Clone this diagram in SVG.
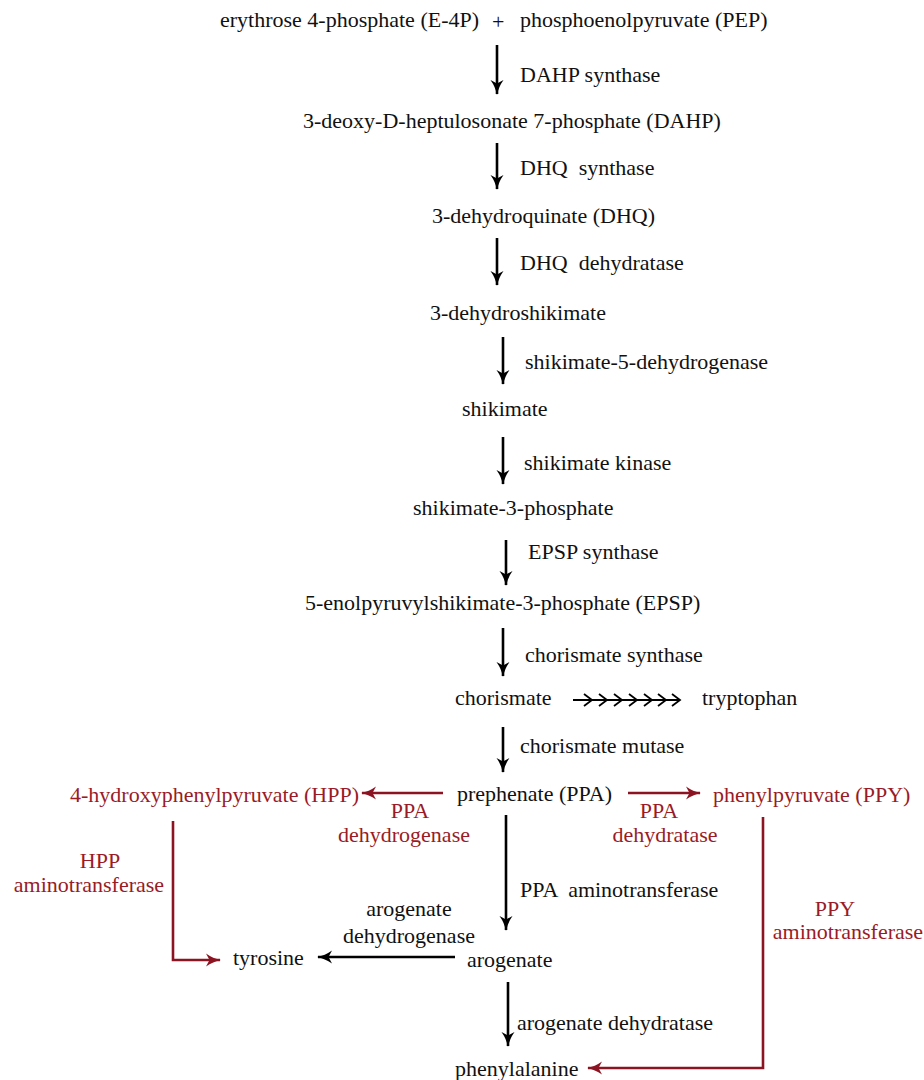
<svg xmlns="http://www.w3.org/2000/svg" width="924" height="1080" viewBox="0 0 924 1080" font-family="'Liberation Serif', 'DejaVu Serif', serif">
<defs>
<style>
text{font-family:'Liberation Serif','DejaVu Serif',serif;font-size:22px;fill:#111}
.r{fill:#9a1b26}
.m{text-anchor:middle}
.k{stroke:#000;stroke-width:2.6;fill:none}
.rl{stroke:#8c1422;stroke-width:2.6;fill:none}
.ch{stroke:#000;stroke-width:1.8;fill:none}
</style>
<marker id="ah" markerUnits="userSpaceOnUse" markerWidth="16" markerHeight="16" viewBox="0 0 16 16" refX="14" refY="8" orient="auto">
<path d="M0,1.5 Q7,6.5 15,8 Q7,9.5 0,14.5 L3.5,8 Z" fill="#000"/>
</marker>
<marker id="ahr" markerUnits="userSpaceOnUse" markerWidth="16" markerHeight="16" viewBox="0 0 16 16" refX="14" refY="8" orient="auto">
<path d="M0,1.5 Q7,6.5 15,8 Q7,9.5 0,14.5 L3.5,8 Z" fill="#8c1422"/>
</marker>
</defs>
<rect width="924" height="1080" fill="#fff"/>

<g id="connectors">
<line class="k" x1="497" y1="45" x2="497" y2="94" marker-end="url(#ah)"/>
<line class="k" x1="497" y1="143" x2="497" y2="189" marker-end="url(#ah)"/>
<line class="k" x1="497" y1="238" x2="497" y2="285" marker-end="url(#ah)"/>
<line class="k" x1="503" y1="337" x2="503" y2="384" marker-end="url(#ah)"/>
<line class="k" x1="503" y1="437" x2="503" y2="484" marker-end="url(#ah)"/>
<line class="k" x1="506" y1="540" x2="506" y2="585" marker-end="url(#ah)"/>
<line class="k" x1="503" y1="628" x2="503" y2="676" marker-end="url(#ah)"/>
<line class="k" x1="503" y1="727" x2="503" y2="772" marker-end="url(#ah)"/>
<g id="multi-arrow">
<line class="ch" x1="573" y1="700" x2="680" y2="700"/>
<path class="ch" d="M584,694 L592,700 L584,706 M599,694 L607,700 L599,706 M614,694 L622,700 L614,706 M629,694 L637,700 L629,706 M644,694 L652,700 L644,706 M658,694 L666,700 L658,706 M672,694 L680,700 L672,706"/>
</g>
<line class="rl" x1="443" y1="793" x2="362" y2="793" marker-end="url(#ahr)"/>
<line class="rl" x1="628" y1="793" x2="700" y2="793" marker-end="url(#ahr)"/>
<polyline class="rl" points="173,821 173,960 220,960" marker-end="url(#ahr)"/>
<line class="k" x1="506" y1="815" x2="506" y2="930" marker-end="url(#ah)"/>
<line class="k" x1="455" y1="957" x2="318" y2="957" marker-end="url(#ah)"/>
<polyline class="rl" points="763,817 763,1068 588,1068" marker-end="url(#ahr)"/>
<line class="k" x1="508" y1="982" x2="508" y2="1046" marker-end="url(#ah)"/>
</g>

<g id="n-e4p"><text x="220" y="27">erythrose 4-phosphate (E-4P)</text></g>
<g id="plus"><text x="492" y="29">+</text></g>
<g id="n-pep"><text x="520" y="27">phosphoenolpyruvate (PEP)</text></g>
<g id="l-dahps"><text x="520" y="82">DAHP synthase</text></g>
<g id="n-dahp"><text x="303" y="128">3-deoxy-D-heptulosonate 7-phosphate (DAHP)</text></g>
<g id="l-dhqs"><text x="520" y="175" xml:space="preserve">DHQ  synthase</text></g>
<g id="n-dhq"><text x="432" y="223">3-dehydroquinate (DHQ)</text></g>
<g id="l-dhqd"><text x="520" y="270" xml:space="preserve">DHQ  dehydratase</text></g>
<g id="n-dhs"><text x="430" y="320">3-dehydroshikimate</text></g>
<g id="l-sdh"><text x="525" y="369">shikimate-5-dehydrogenase</text></g>
<g id="n-shik"><text x="462" y="416">shikimate</text></g>
<g id="l-sk"><text x="524" y="470">shikimate kinase</text></g>
<g id="n-s3p"><text x="413" y="515">shikimate-3-phosphate</text></g>
<g id="l-epsps"><text x="528" y="559">EPSP synthase</text></g>
<g id="n-epsp"><text x="305" y="610">5-enolpyruvylshikimate-3-phosphate (EPSP)</text></g>
<g id="l-cs"><text x="525" y="662">chorismate synthase</text></g>
<g id="n-chor"><text x="455" y="705">chorismate</text></g>
<g id="n-trp"><text x="702" y="705">tryptophan</text></g>
<g id="l-cm"><text x="520" y="753">chorismate mutase</text></g>
<g id="n-ppa"><text x="457" y="801">prephenate (PPA)</text></g>
<g id="n-hpp"><text class="r" x="70" y="802">4-hydroxyphenylpyruvate (HPP)</text></g>
<g id="n-ppy"><text class="r" x="713" y="802">phenylpyruvate (PPY)</text></g>
<g id="l-ppadh"><text class="r m" x="410" y="818">PPA</text><text class="r m" x="404" y="842">dehydrogenase</text></g>
<g id="l-ppadt"><text class="r m" x="659" y="818">PPA</text><text class="r m" x="665" y="842">dehydratase</text></g>
<g id="l-hppat"><text class="r m" x="100" y="868">HPP</text><text class="r m" x="89" y="892">aminotransferase</text></g>
<g id="l-ppaat"><text x="520" y="897" xml:space="preserve">PPA  aminotransferase</text></g>
<g id="l-adh"><text class="m" x="409" y="916">arogenate</text><text class="m" x="409" y="943">dehydrogenase</text></g>
<g id="n-tyr"><text x="233" y="965">tyrosine</text></g>
<g id="n-aro"><text x="467" y="967">arogenate</text></g>
<g id="l-ppyat"><text class="r m" x="835" y="916">PPY</text><text class="r m" x="848" y="939">aminotransferase</text></g>
<g id="l-adt"><text x="517" y="1030">arogenate dehydratase</text></g>
<g id="n-phe"><text x="455" y="1076">phenylalanine</text></g>
</svg>
